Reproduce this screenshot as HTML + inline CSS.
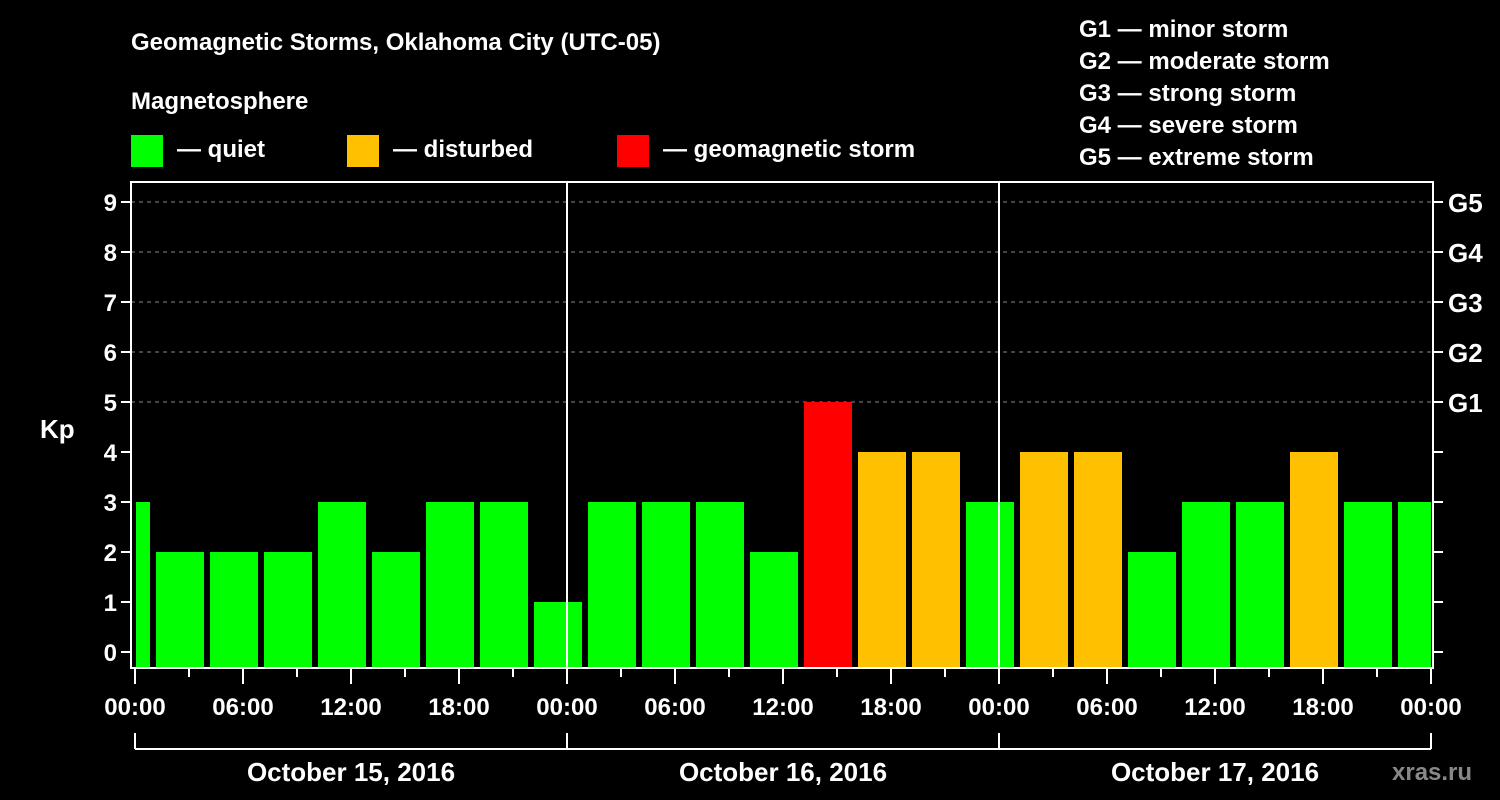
<!DOCTYPE html>
<html><head><meta charset="utf-8"><style>
body{margin:0;background:#000;width:1500px;height:800px;overflow:hidden}
svg{display:block;font-family:"Liberation Sans",Arial,sans-serif;font-weight:bold}
</style></head><body>
<svg id="c" width="1500" height="800">
<text x="131" y="50" fill="#fff" font-size="24">Geomagnetic Storms, Oklahoma City (UTC-05)</text>
<text x="131" y="109" fill="#fff" font-size="24">Magnetosphere</text>
<rect x="131" y="135" width="32" height="32" fill="#00ff00"/>
<text x="177" y="157" fill="#fff" font-size="24">— quiet</text>
<rect x="347" y="135" width="32" height="32" fill="#ffc000"/>
<text x="393" y="157" fill="#fff" font-size="24">— disturbed</text>
<rect x="617" y="135" width="32" height="32" fill="#ff0000"/>
<text x="663" y="157" fill="#fff" font-size="24">— geomagnetic storm</text>
<g fill="#fff" font-size="24">
<text x="1079" y="37">G1 — minor storm</text>
<text x="1079" y="69">G2 — moderate storm</text>
<text x="1079" y="101">G3 — strong storm</text>
<text x="1079" y="133">G4 — severe storm</text>
<text x="1079" y="165">G5 — extreme storm</text>
</g>
<text x="40" y="438" fill="#fff" font-size="26">Kp</text>
<text x="1392" y="780" fill="#888" font-size="24">xras.ru</text>
<g id="grid"></g><g id="bars"></g><g id="axes"></g>
</svg>
<script>
const kpValues=[3,2,2,2,3,2,3,3,1,3,3,3,2,5,4,4,3,4,4,2,3,3,4,3,3];
const startHour=-2; // first interval start, hours from first midnight
const gLabels=["G1","G2","G3","G4","G5"];
const dayLabels=["October 15, 2016","October 16, 2016","October 17, 2016"];
const hourLabels=["00:00","06:00","12:00","18:00"];
const NS="http://www.w3.org/2000/svg";
const X0=135,PXH=18,L=131,R=1433,T=182,B=668;
const xs=h=>X0+h*PXH, ys=v=>652-v*50;
function mk(tag,attrs,parent,txt){const e=document.createElementNS(NS,tag);for(const k in attrs)e.setAttribute(k,attrs[k]);if(txt!=null)e.textContent=txt;parent.appendChild(e);return e;}
const grid=document.getElementById('grid'),bars=document.getElementById('bars'),axes=document.getElementById('axes');
for(let v=5;v<=9;v++){const l=mk('line',{x1:L,x2:R,y1:ys(v),y2:ys(v),stroke:'#888','stroke-dasharray':'4,4'},grid);

}
kpValues.forEach((v,i)=>{
 let a=xs(startHour+i*3)+3,b=xs(startHour+i*3+3)-3;
 a=Math.max(a,L+5);b=Math.min(b,R-2);
 const col=v>=5?'#ff0000':v>=4?'#ffc000':'#00ff00';
 const r=mk('rect',{x:a,y:ys(v),width:b-a,height:B-ys(v),fill:col},bars);
 
 
});
const days=dayLabels.length;
for(let d=1;d<days;d++){const l=mk('line',{x1:xs(d*24),x2:xs(d*24),y1:T,y2:B,stroke:'#fff','stroke-width':2},axes);

}
const fr=mk('path',{d:`M${L} ${T}H${R}V${B}H${L}Z`,fill:'none',stroke:'#fff','stroke-width':2},axes);


for(let v=0;v<=9;v++){
 mk('line',{x1:L-10,x2:L,y1:ys(v),y2:ys(v),stroke:'#fff','stroke-width':2},axes);
 mk('line',{x1:R,x2:R+10,y1:ys(v),y2:ys(v),stroke:'#fff','stroke-width':2},axes);
 const t=mk('text',{x:L-14,y:ys(v)+9,fill:'#fff','font-size':24,'text-anchor':'end'},axes,String(v));
 
 
 if(v>=5){const g=mk('text',{x:R+15,y:ys(v)+10,fill:'#fff','font-size':26},axes,gLabels[v-5]);
 
 }
}
for(let h=0;h<=days*24;h+=3){
 const maj=h%6===0;
 mk('line',{x1:xs(h),x2:xs(h),y1:B,y2:maj?684:677,stroke:'#fff','stroke-width':2},axes);
 if(maj){const t=mk('text',{x:xs(h),y:715,fill:'#fff','font-size':24,'text-anchor':'middle'},axes,hourLabels[(h/6)%4]);
 
 }
}
mk('line',{x1:xs(0),x2:xs(days*24),y1:749,y2:749,stroke:'#fff','stroke-width':2},axes);
for(let d=0;d<=days;d++)mk('line',{x1:xs(d*24),x2:xs(d*24),y1:733,y2:749,stroke:'#fff','stroke-width':2},axes);
dayLabels.forEach((s,d)=>{const t=mk('text',{x:xs(d*24+12),y:781,fill:'#fff','font-size':26,'text-anchor':'middle'},axes,s);

});
</script>
</body></html>
